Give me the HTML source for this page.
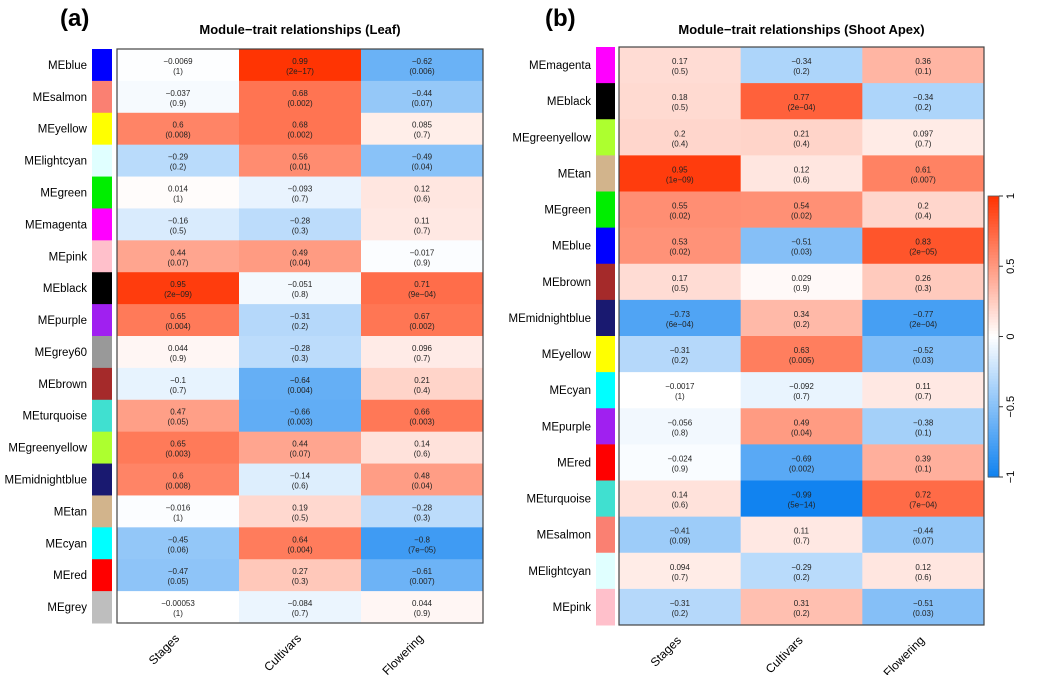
<!DOCTYPE html>
<html><head><meta charset="utf-8"><style>
body{margin:0;background:#fff;}
svg{display:block;font-family:"Liberation Sans",Arial,sans-serif;}
</style></head><body>
<svg id="chart" width="1037" height="675" viewBox="0 0 1037 675"></svg>
<script>
const traits=["Stages","Cultivars","Flowering"];
const leafModules=["MEblue","MEsalmon","MEyellow","MElightcyan","MEgreen","MEmagenta","MEpink","MEblack","MEpurple","MEgrey60","MEbrown","MEturquoise","MEgreenyellow","MEmidnightblue","MEtan","MEcyan","MEred","MEgrey"];
const leafColors=["#0000ff","#fa8072","#ffff00","#e0ffff","#00ee00","#ff00ff","#ffc0cb","#000000","#a020f0","#999999","#a52a2a","#40e0d0","#adff2f","#191970","#d2b48c","#00ffff","#ff0000","#bebebe"];
const leafCor=[[-0.0069,0.99,-0.62],[-0.037,0.68,-0.44],[0.6,0.68,0.085],[-0.29,0.56,-0.49],[0.014,-0.093,0.12],[-0.16,-0.28,0.11],[0.44,0.49,-0.017],[0.95,-0.051,0.71],[0.65,-0.31,0.67],[0.044,-0.28,0.096],[-0.1,-0.64,0.21],[0.47,-0.66,0.66],[0.65,0.44,0.14],[0.6,-0.14,0.48],[-0.016,0.19,-0.28],[-0.45,0.64,-0.8],[-0.47,0.27,-0.61],[-0.00053,-0.084,0.044]];
const leafP=[["1","2e-17","0.006"],["0.9","0.002","0.07"],["0.008","0.002","0.7"],["0.2","0.01","0.04"],["1","0.7","0.6"],["0.5","0.3","0.7"],["0.07","0.04","0.9"],["2e-09","0.8","9e-04"],["0.004","0.2","0.002"],["0.9","0.3","0.7"],["0.7","0.004","0.4"],["0.05","0.003","0.003"],["0.003","0.07","0.6"],["0.008","0.6","0.04"],["1","0.5","0.3"],["0.06","0.004","7e-05"],["0.05","0.3","0.007"],["1","0.7","0.9"]];
const apexModules=["MEmagenta","MEblack","MEgreenyellow","MEtan","MEgreen","MEblue","MEbrown","MEmidnightblue","MEyellow","MEcyan","MEpurple","MEred","MEturquoise","MEsalmon","MElightcyan","MEpink"];
const apexColors=["#ff00ff","#000000","#adff2f","#d2b48c","#00ee00","#0000ff","#a52a2a","#191970","#ffff00","#00ffff","#a020f0","#ff0000","#40e0d0","#fa8072","#e0ffff","#ffc0cb"];
const apexCor=[[0.17,-0.34,0.36],[0.18,0.77,-0.34],[0.2,0.21,0.097],[0.95,0.12,0.61],[0.55,0.54,0.2],[0.53,-0.51,0.83],[0.17,0.029,0.26],[-0.73,0.34,-0.77],[-0.31,0.63,-0.52],[-0.0017,-0.092,0.11],[-0.056,0.49,-0.38],[-0.024,-0.69,0.39],[0.14,-0.99,0.72],[-0.41,0.11,-0.44],[0.094,-0.29,0.12],[-0.31,0.31,-0.51]];
const apexP=[["0.5","0.2","0.1"],["0.5","2e-04","0.2"],["0.4","0.4","0.7"],["1e-09","0.6","0.007"],["0.02","0.02","0.4"],["0.02","0.03","2e-05"],["0.5","0.9","0.3"],["6e-04","0.2","2e-04"],["0.2","0.005","0.03"],["1","0.7","0.7"],["0.8","0.04","0.1"],["0.9","0.002","0.1"],["0.6","5e-14","7e-04"],["0.09","0.7","0.07"],["0.7","0.2","0.6"],["0.2","0.2","0.03"]];
const barTicks=[1,0.5,0,-0.5,-1];

const NS="http://www.w3.org/2000/svg";
const svg=document.getElementById('chart');
function mk(tag,attrs,parent,text){const e=document.createElementNS(NS,tag);for(const k in attrs)e.setAttribute(k,attrs[k]);if(text!==undefined)e.textContent=text;(parent||svg).appendChild(e);return e;}
function color(v){
  if(v>=0){return `rgb(255,${Math.round(255-v*205)},${Math.round(255-v*255)})`;}
  const a=-v;return `rgb(${Math.round(255-a*240)},${Math.round(255-a*125)},${Math.round(255-a*15)})`;
}
function fmt(v){return String(v).replace('-','\u2212');}
function panel(cfg){
  const g=mk('g',{});
  
  
  const t=mk('text',{x:cfg.lx,y:26,'font-size':24,'font-weight':'bold'},g,cfg.letter);
  
  const ti=mk('text',{x:(cfg.x0+cfg.x1)/2,y:34,'font-size':13,'font-weight':'bold','text-anchor':'middle'},g,cfg.title);
  
  const n=cfg.mods.length, rh=(cfg.y1-cfg.y0)/n, cw=(cfg.x1-cfg.x0)/3;
  const yOf=i=>cfg.y0+i*rh, xOf=j=>cfg.x0+j*cw;
  cfg.mods.forEach((m,i)=>{
    const y=yOf(i);
    const lab=mk('text',{x:cfg.sx-5,y:y+rh/2+4,'font-size':11.5,'text-anchor':'end'},g,m);
    
    const sw=mk('rect',{x:cfg.sx,y:y,width:cfg.sw,height:rh+0.5,fill:cfg.cols[i]},g);
    
    traits.forEach((tr,j)=>{
      const v=cfg.cor[i][j];
      const c=mk('rect',{x:xOf(j),y:y,width:cw+0.5,height:rh+0.5,fill:color(v)},g);
      
      const tx=mk('text',{x:xOf(j)+cw/2,y:y+rh/2-1,'font-size':8,'text-anchor':'middle',fill:'#222'},g,fmt(v));
      
      const tp=mk('text',{x:xOf(j)+cw/2,y:y+rh/2+9,'font-size':8,'text-anchor':'middle',fill:'#222'},g,'('+fmt(cfg.p[i][j])+')');
      
    });
  });
  const b=mk('rect',{x:cfg.x0,y:cfg.y0,width:cfg.x1-cfg.x0,height:cfg.y1-cfg.y0,fill:'none',stroke:'#444','stroke-width':1.2},g);
  
  traits.forEach((tr,j)=>{
    const cx=xOf(j)+cw/2+2, cy=cfg.y1+16;
    const l=mk('text',{x:cx,y:cy,'font-size':12,'text-anchor':'end',transform:`rotate(-45 ${cx} ${cy})`},g,tr);
    
  });
}
panel({name:'panel-a-leaf',letter:'(a)',lx:60,title:'Module\u2212trait relationships (Leaf)',x0:117,x1:483,y0:49,y1:623,sx:92,sw:20,mods:leafModules,cols:leafColors,cor:leafCor,p:leafP});
panel({name:'panel-b-shoot-apex',letter:'(b)',lx:545,title:'Module\u2212trait relationships (Shoot Apex)',x0:619,x1:984,y0:47,y1:625,sx:596,sw:19,mods:apexModules,cols:apexColors,cor:apexCor,p:apexP});

// colorbar
const cb=mk('g',{});


const cbx=988,cbw=11,cbTop=196,cbBot=477;
const cbY=v=>cbTop+(1-v)/2*(cbBot-cbTop);
for(let k=0;k<100;k++){
  const v=1-k*0.02;
  mk('rect',{x:cbx,y:cbY(v),width:cbw,height:(cbBot-cbTop)/100+0.6,fill:color(v-0.01)},cb);
}
mk('rect',{x:cbx,y:cbTop,width:cbw,height:cbBot-cbTop,fill:'none',stroke:'#555','stroke-width':0.8},cb);
barTicks.forEach(v=>{
  const y=cbY(v);
  mk('line',{x1:cbx+cbw,x2:cbx+cbw+4,y1:y,y2:y,stroke:'#333'},cb);
  const t=mk('text',{x:1014,y:y,'font-size':11,'text-anchor':'middle',transform:`rotate(-90 1014 ${y})`},cb,fmt(v));
  
  
});
</script>
</body></html>
